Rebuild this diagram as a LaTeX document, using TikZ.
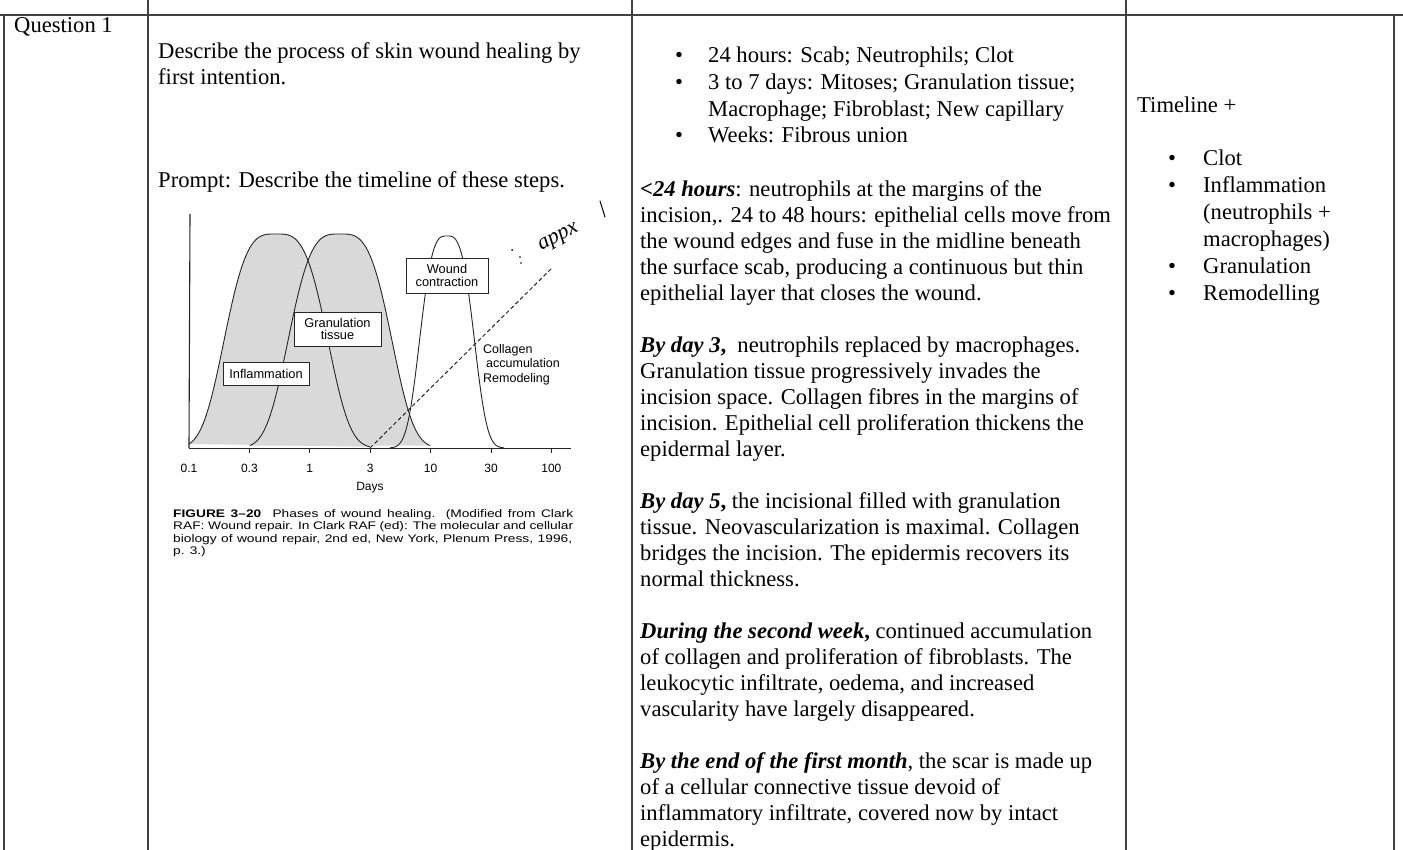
\documentclass[tikz,border=0pt]{standalone}
\usepackage{fontspec}
\setmainfont{Liberation Serif}
\newfontfamily\figsans{Liberation Sans}
\newfontfamily\capsans[FakeStretch=1.25]{Liberation Sans}
\begin{document}
\begin{tikzpicture}[x=1pt,y=-1pt,
  rule/.style={line width=1.1pt, black!75},
  body/.style={anchor=base west, inner sep=0pt, font=\fontsize{22.6}{26}\selectfont, align=left},
  lst/.style={anchor=base west, inner sep=0pt, font=\fontsize{22.6}{26.7}\selectfont, align=left},
  bul/.style={anchor=base west, inner sep=0pt, font=\fontsize{22.6}{26}\selectfont},
  curve/.style={line width=0.9pt, black!85},
  shade/.style={black!15},
  lbox/.style={draw=black!85, line width=0.8pt, fill=white, inner sep=0pt, align=center, font=\figsans\fontsize{12.8}{12.8}\selectfont},
  ticklab/.style={font=\figsans\fontsize{12}{12}\selectfont, inner sep=0pt, anchor=base},
  captext/.style={font=\capsans\fontsize{11}{11}\selectfont, inner sep=0pt, anchor=base west},
]
\useasboundingbox (0,0) rectangle (1403,850);
\fill[white] (0,0) rectangle (1403,850);

% table rules
\draw[rule] (0,15) -- (1403,15);
\draw[rule] (4,15) -- (4,850);
\draw[rule] (148,0) -- (148,850);
\draw[rule] (632,0) -- (632,850);
\draw[rule] (1126,0) -- (1126,850);
\draw[rule] (1394,15) -- (1394,850);

% left columns (multi-line nodes are anchored at the baseline of their last line)
\node[body] (q) at (14,33) {Question 1};
\node[body] (desc) at (158,85) {Describe the process of skin wound healing by\\first intention.};
\node[body] (prompt) at (158,188) {Prompt: Describe the timeline of these steps.};

% middle column bullets
\node[bul] (mb1) at (675,63) {•};
\node[body] (mt1) at (708,63) {24 hours: Scab; Neutrophils; Clot};
\node[bul] (mb2) at (675,89.5) {•};
\node[lst] (mt2) at (708,116.2) {3 to 7 days: Mitoses; Granulation tissue;\\Macrophage; Fibroblast; New capillary};
\node[bul] (mb3) at (675,143) {•};
\node[body] (mt3) at (708,143) {Weeks: Fibrous union};

% middle column paragraphs
\node[body] (para) at (640,846) {%
\textbf{\textit{<24 hours}}: neutrophils at the margins of the\\
incision,. 24 to 48 hours: epithelial cells move from\\
the wound edges and fuse in the midline beneath\\
the surface scab, producing a continuous but thin\\
epithelial layer that closes the wound.\\[26pt]
\textbf{\textit{By day 3},}\ \ neutrophils replaced by macrophages.\\
Granulation tissue progressively invades the\\
incision space. Collagen fibres in the margins of\\
incision. Epithelial cell proliferation thickens the\\
epidermal layer.\\[26pt]
\textbf{\textit{By day 5},} the incisional filled with granulation\\
tissue. Neovascularization is maximal. Collagen\\
bridges the incision. The epidermis recovers its\\
normal thickness.\\[26pt]
\textbf{\textit{During the second week},} continued accumulation\\
of collagen and proliferation of fibroblasts. The\\
leukocytic infiltrate, oedema, and increased\\
vascularity have largely disappeared.\\[26pt]
\textbf{\textit{By the end of the first month}}, the scar is made up\\
of a cellular connective tissue devoid of\\
inflammatory infiltrate, covered now by intact\\
epidermis.};

% right column
\node[body] (tl) at (1137,113) {Timeline +};
\node[bul] (rb1) at (1168,166) {•};
\node[body] (rt1) at (1203,166) {Clot};
\node[bul] (rb2) at (1168,193) {•};
\node[anchor=base west, inner sep=0pt, align=left, font=\fontsize{22.6}{27}\selectfont] (rt2) at (1203,247) {Inflammation\\(neutrophils +\\macrophages)};
\node[bul] (rb3) at (1168,274) {•};
\node[body] (rt3) at (1203,274) {Granulation};
\node[bul] (rb4) at (1168,301) {•};
\node[body] (rt4) at (1203,301) {Remodelling};

% ---- graph ----
\fill[shade] plot[domain=189:370, samples=120] (\x, {448-214*exp(-((abs(\x-276)+0.01)/58)^3.4)}) -- cycle;
\fill[shade] plot[domain=250:430, samples=120] (\x, {448-214*exp(-((abs(\x-340)+0.01)/58)^3.4)}) -- cycle;
\draw[curve] plot[domain=189:370, samples=120] (\x, {448-214*exp(-((abs(\x-276)+0.01)/58)^3.4)});
\draw[curve] plot[domain=250:430, samples=120] (\x, {448-214*exp(-((abs(\x-340)+0.01)/58)^3.4)});
\draw[curve] plot[domain=390:504, samples=120] (\x, {448-212*exp(-((abs(\x-447)+0.01)/31)^3.2)});

% axes
\draw[line width=1.1pt, black!85] (190,214) -- (189,448);
\draw[line width=1pt, black!85] (189,448) -- (571,448);
\foreach \i in {1,...,6} \draw[line width=0.8pt, black!85] ({189+60.4*\i},448) -- ({189+60.4*\i},453);

\draw[dash pattern=on 4pt off 2.6pt, line width=1pt, black!85] (370,448) -- (553,267);

% tick labels
\node[ticklab] (l0) at (189,472) {0.1};
\node[ticklab] (l1) at (249.4,472) {0.3};
\node[ticklab] (l2) at (309.8,472) {1};
\node[ticklab] (l3) at (370.2,472) {3};
\node[ticklab] (l4) at (430.6,472) {10};
\node[ticklab] (l5) at (491,472) {30};
\node[ticklab] (l6) at (551.4,472) {100};
\node[ticklab] (days) at (370,490) {Days};

% label boxes
\node[lbox, minimum width=86pt, minimum height=23pt] (inf) at (266,373.5) {Inflammation};
\node[lbox, minimum width=87pt, minimum height=34pt] (gran) at (337.5,329) {Granulation\\tissue};
\node[lbox, minimum width=82pt, minimum height=35pt] (wc) at (447,275.5) {Wound\\contraction};
\node[anchor=base west, inner sep=0pt, align=left, font=\figsans\fontsize{12.5}{14.5}\selectfont] (coll) at (483,382) {Collagen\\\hspace{3pt}accumulation\\Remodeling};

% handwriting
\node[rotate=28, inner sep=0pt, font=\itshape\fontsize{22}{22}\selectfont] (hw) at (559,238) {appx};
\fill (512,250) circle (1pt);
\fill (520,257) circle (0.9pt);
\fill (521,263) circle (0.9pt);
\draw[line width=1pt, line cap=round] (600,201) -- (605,217);

% caption
\node[captext] (c1) at (173,517) {\makebox[400pt][s]{\bfseries FIGURE 3–20\ \ \mdseries Phases of wound healing. (Modified from Clark}};
\node[captext] (c2) at (173,529.5) {\makebox[400pt][s]{RAF: Wound repair. In Clark RAF (ed): The molecular and cellular}};
\node[captext] (c3) at (173,542) {\makebox[399pt][s]{biology of wound repair, 2nd ed, New York, Plenum Press, 1996,}};
\node[captext] (c4) at (173,554) {p. 3.)};
\end{tikzpicture}
\end{document}
